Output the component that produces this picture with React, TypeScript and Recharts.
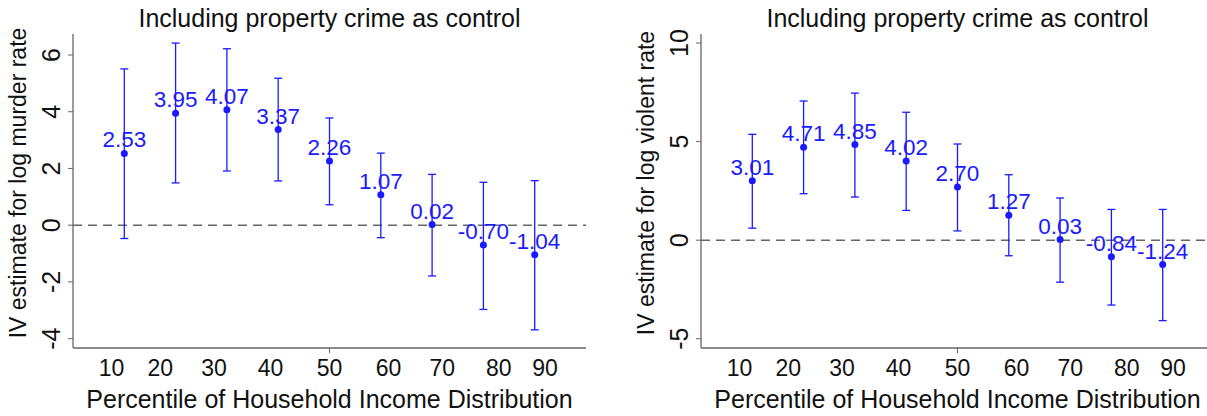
import React from 'react';
import { ComposedChart, Scatter, ErrorBar, XAxis, YAxis, ReferenceLine } from 'recharts';

// IV estimates by income percentile group, with 95% CI bounds
const groups = [1, 2, 3, 4, 5, 6, 7, 8, 9];

const murderEst = [2.53, 3.95, 4.07, 3.37, 2.26, 1.07, 0.02, -0.70, -1.04];
const murderLo = [-0.47, 1.49, 1.91, 1.56, 0.72, -0.44, -1.79, -2.97, -3.69];
const murderHi = [5.51, 6.42, 6.22, 5.18, 3.78, 2.54, 1.79, 1.51, 1.57];

const violentEst = [3.01, 4.71, 4.85, 4.02, 2.70, 1.27, 0.03, -0.84, -1.24];
const violentLo = [0.61, 2.36, 2.19, 1.51, 0.47, -0.79, -2.13, -3.29, -4.08];
const violentHi = [5.37, 7.06, 7.46, 6.49, 4.88, 3.32, 2.14, 1.56, 1.56];

const xTickPos = [0.75, 1.7, 2.75, 3.85, 5, 6.15, 7.2, 8.3, 9.2];
const xTickLabels = ['10', '20', '30', '40', '50', '60', '70', '80', '90'];

const murderTicks = [-4, -2, 0, 2, 4, 6];
const violentTicks = [-5, 0, 5, 10];

const BLUE = '#1a1aff';
const GREY = '#666666';
const FONT = "'Liberation Sans', Arial, Helvetica, sans-serif";

const W = 600;
const H = 416;
const M = { top: 34, right: 14, bottom: 0, left: 0 };
const Y_W = 73;
const X_H = 68;

function buildRows(est: number[], lo: number[], hi: number[]) {
  return groups.map((g, i) => ({
    x: g,
    y: est[i],
    err: [est[i] - lo[i], hi[i] - est[i]],
  }));
}

const Dot = (props: any) => {
  const { cx, cy, payload } = props;
  return (
    <g>
      <circle cx={cx} cy={cy} r={3.5} fill={BLUE} />
      <text x={cx} y={cy - 6} textAnchor="middle" fill={BLUE} fontSize={22.5} fontFamily={FONT}>
        {payload.y.toFixed(2)}
      </text>
    </g>
  );
};

const XTick = (props: any) => {
  const { x, y, payload } = props;
  const i = xTickPos.indexOf(payload.value);
  return (
    <g>
      {payload.value === 5 && <line x1={x} x2={x} y1={y - 5} y2={y} stroke={GREY} strokeWidth={1} />}
      <text x={x} y={y + 23} textAnchor="middle" fill="#111" fontSize={23} fontFamily={FONT}>
        {xTickLabels[i]}
      </text>
    </g>
  );
};

const YTick = (props: any) => {
  const { x, y, payload } = props;
  const tx = x - 8;
  return (
    <text
      x={tx}
      y={y}
      transform={`rotate(-90, ${tx}, ${y})`}
      textAnchor="middle"
      fill="#111"
      fontSize={25}
      fontFamily={FONT}
    >
      {payload.value}
    </text>
  );
};

function Panel({ rows, domain, ticks, yTitle }: { rows: any[]; domain: number[]; ticks: number[]; yTitle: string }) {
  const plotW = W - M.left - M.right - Y_W;
  const plotH = H - M.top - M.bottom - X_H;
  const cx = M.left + Y_W + plotW / 2;
  const ly = M.top + plotH / 2 - 8;
  const lx = M.left + Y_W - 47;
  return (
    <ComposedChart width={W} height={H} data={rows} margin={M}>
      <text x={cx} y={27} textAnchor="middle" fill="#111" fontSize={25} fontFamily={FONT}>
        Including property crime as control
      </text>
      <text x={cx} y={408} textAnchor="middle" fill="#111" fontSize={25} fontFamily={FONT}>
        Percentile of Household Income Distribution
      </text>
      <text
        x={lx}
        y={ly}
        transform={`rotate(-90, ${lx}, ${ly})`}
        textAnchor="middle"
        fill="#111"
        fontSize={23}
        fontFamily={FONT}
      >
        {yTitle}
      </text>
      <XAxis
        type="number"
        dataKey="x"
        domain={[0, 10]}
        ticks={xTickPos}
        interval={0}
        height={X_H}
        tickLine={false}
        tickSize={5}
        tickMargin={0}
        tick={<XTick />}
        axisLine={{ stroke: GREY, strokeWidth: 1.3 }}
        allowDataOverflow
      />
      <YAxis
        type="number"
        dataKey="y"
        domain={domain}
        ticks={ticks}
        interval={0}
        width={Y_W}
        tickSize={5}
        tickMargin={0}
        tickLine={{ stroke: GREY, strokeWidth: 1 }}
        tick={<YTick />}
        axisLine={{ stroke: GREY, strokeWidth: 1.3 }}
        allowDataOverflow
      />
      <ReferenceLine y={0} stroke={GREY} strokeWidth={1.5} strokeDasharray="9 6" />
      <Scatter data={rows} dataKey="y" shape={<Dot />} isAnimationActive={false}>
        <ErrorBar dataKey="err" direction="y" width={4} stroke={BLUE} strokeWidth={1.3} />
      </Scatter>
    </ComposedChart>
  );
}

export default function App() {
  const murderRows = buildRows(murderEst, murderLo, murderHi);
  const violentRows = buildRows(violentEst, violentLo, violentHi);
  return (
    <div style={{ position: 'absolute', left: 0, top: 0, width: 1207, height: 416, overflow: 'hidden', background: '#fff' }}>
      <div style={{ position: 'absolute', left: 0, top: 0 }}>
        <Panel rows={murderRows} domain={[-4.33, 6.74]} ticks={murderTicks} yTitle="IV estimate for log murder rate" />
      </div>
      <div style={{ position: 'absolute', left: 628, top: 0 }}>
        <Panel rows={violentRows} domain={[-5.47, 10.46]} ticks={violentTicks} yTitle="IV estimate for log violent rate" />
      </div>
    </div>
  );
}
